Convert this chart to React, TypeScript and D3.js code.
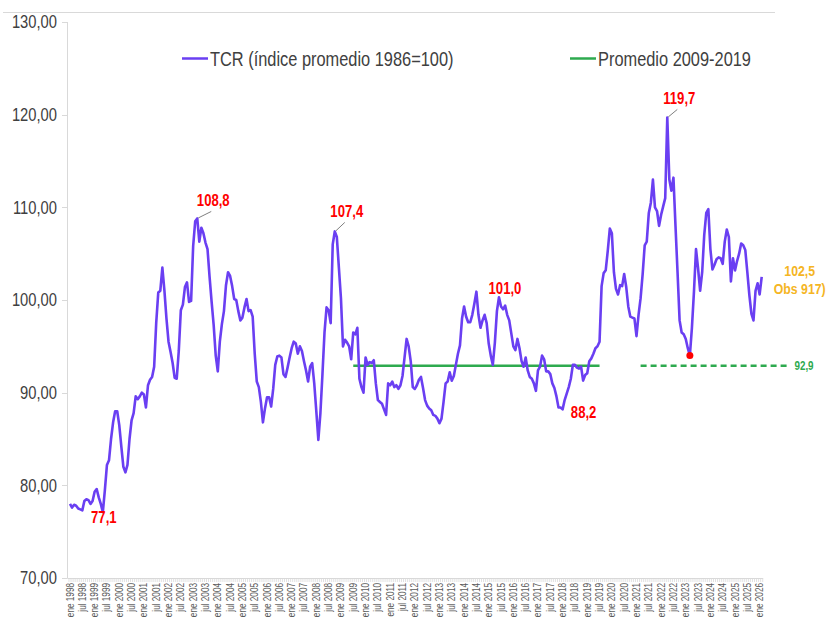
import { useEffect, useRef } from 'react'
import * as d3 from 'd3'

// TCR monthly index (1986=100), ene 1998 .. feb 2026
const tcr: number[] = [
  // 1998
  78.0, 77.6, 77.9, 77.8, 77.5, 77.4, 77.3, 78.3, 78.5, 78.4, 78.0, 78.3,
  // 1999
  79.3, 79.6, 78.7, 78.0, 77.1, 79.5, 82.2, 82.7, 85.0, 86.8, 88.0, 88.0,
  // 2000
  86.5, 84.2, 82.0, 81.4, 82.2, 85.0, 87.0, 87.8, 89.6, 89.3, 89.6, 90.0,
  // 2001
  89.8, 88.4, 90.8, 91.4, 91.7, 92.8, 97.5, 100.8, 101.0, 103.5, 101.0, 98.0,
  // 2002
  95.5, 94.4, 93.2, 91.6, 91.5, 94.5, 98.9, 99.5, 101.4, 101.9, 99.8, 99.9,
  // 2003
  105.8, 108.5, 108.8, 106.3, 107.8, 107.2, 106.2, 105.5, 102.5, 99.8, 97.3, 94.0,
  // 2004
  92.3, 95.5, 97.4, 98.8, 101.6, 103.0, 102.6, 101.5, 100.1, 100.0, 98.8, 97.8,
  // 2005
  98.1, 99.2, 100.1, 98.8, 98.9, 98.2, 94.2, 91.2, 90.6, 89.0, 86.8, 88.3,
  // 2006
  89.5, 89.5, 88.5, 90.4, 93.0, 93.9, 94.0, 93.8, 92.0, 91.7, 92.7, 93.8,
  // 2007
  94.8, 95.5, 95.3, 94.2, 95.0, 94.5, 93.4, 92.4, 91.2, 92.8, 93.2, 91.0,
  // 2008
  88.0, 84.9, 87.8, 92.0, 96.5, 99.2, 98.9, 97.5, 106.0, 107.4, 106.8, 103.5,
  // 2009
  100.2, 95.0, 95.7, 95.4, 95.0, 93.6, 96.5, 96.3, 97.0, 91.5, 90.6, 90.0,
  // 2010
  93.8, 93.0, 93.3, 93.2, 93.5, 91.0, 89.2, 89.0, 88.8, 88.2, 87.6, 91.0,
  // 2011
  90.8, 91.2, 90.6, 90.8, 90.4, 90.8, 91.8, 93.8, 95.8, 95.0, 93.4, 90.6,
  // 2012
  90.4, 90.8, 91.4, 91.7, 90.5, 89.2, 88.6, 88.3, 88.1, 87.6, 87.5, 87.2,
  // 2013
  86.7, 87.2, 89.0, 91.0, 91.2, 92.2, 91.3, 91.8, 93.0, 94.2, 95.1, 98.0,
  // 2014
  99.3, 98.2, 97.6, 97.6, 98.4, 99.6, 100.9, 98.4, 97.0, 97.8, 98.4, 97.5,
  // 2015
  95.3, 94.0, 93.0, 95.4, 98.8, 100.3, 99.3, 99.0, 99.4, 98.4, 97.8, 96.4,
  // 2016
  95.0, 94.6, 95.8, 94.8, 93.4, 92.8, 93.8, 92.4, 91.7, 91.5, 91.0, 90.2,
  // 2017
  92.4, 92.8, 94.0, 93.6, 92.3, 92.3, 92.0, 91.0, 90.5, 89.6, 88.4, 88.4,
  // 2018
  88.2, 89.2, 89.9, 90.6, 91.5, 93.0, 93.0, 92.7, 92.6, 92.8, 91.3, 91.9,
  // 2019
  92.1, 93.4, 93.7, 94.2, 94.8, 95.0, 95.5, 101.5, 102.9, 103.2, 105.3, 107.7,
  // 2020
  107.2, 103.0, 101.2, 100.6, 101.6, 101.5, 102.8, 101.4, 99.3, 98.2, 98.1, 98.0,
  // 2021
  96.1, 98.4, 100.2, 102.8, 105.9, 106.3, 109.4, 110.5, 113.0, 110.0, 109.6, 108.0,
  // 2022
  109.2, 110.1, 111.0, 119.7, 113.0, 111.8, 113.2, 108.0, 103.0, 97.8, 96.5, 96.3,
  // 2023
  95.8, 94.8, 94.0, 97.0, 100.9, 105.5, 103.4, 101.0, 103.0, 107.0, 109.4, 109.8,
  // 2024
  105.5, 103.3, 103.8, 104.4, 104.6, 104.5, 103.9, 106.3, 107.6, 106.8, 102.0, 104.5,
  // 2025
  103.2, 104.2, 105.0, 106.1, 105.9, 105.4, 103.0, 100.5, 98.5, 97.8, 101.0, 101.8,
  // 2026
  100.6, 102.5,
]

const firstYear = 1998
const yTicks = [70, 80, 90, 100, 110, 120, 130]
const xTickLabels = d3
  .range(0, tcr.length, 6)
  .map(i => `${i % 12 === 0 ? 'ene' : 'jul'} ${firstYear + Math.floor(i / 12)}`)

// average 2009-2019
const avgValue = 92.9
const avgSolid = [138, 258]
const avgDashed = [278, 351]

// highlighted extremes (month index, label)
const peakIdx = [16, 62, 129, 209, 240, 291]
const peakText = ['77,1', '108,8', '107,4', '101,0', '88,2', '119,7']
const lowDotIdx = 302
const lastText = ['102,5', 'Obs 917)']

const FONT = '"Liberation Sans", Arial, sans-serif'
const NARROW_SCALE = 0.82
const PURPLE = '#6a3ff2'
const GREEN = '#2eaa4f'

type Sel = d3.Selection<SVGSVGElement, unknown, null, undefined>

// Arial Narrow look-alike: Arial metrics squeezed horizontally
function narrowText(
  svg: Sel,
  x: number,
  y: number,
  text: string,
  opts: { size: number; fill: string; anchor?: string; weight?: number; rotate?: number; dy?: string }
) {
  return svg
    .append('text')
    .attr('transform', `translate(${x},${y}) rotate(${opts.rotate || 0}) scale(${NARROW_SCALE},1)`)
    .attr('text-anchor', opts.anchor || 'start')
    .attr('dy', opts.dy || '0')
    .attr('font-family', FONT)
    .attr('font-size', opts.size)
    .attr('font-weight', opts.weight || 400)
    .attr('fill', opts.fill)
    .text(text)
}

export default function App() {
  const svgRef = useRef<SVGSVGElement>(null)

  useEffect(() => {
    if (!svgRef.current) return
    const svg = d3.select(svgRef.current)
    svg.selectAll('*').remove()

    const x = d3.scaleLinear().domain([0, tcr.length - 1]).range([70, 761.7])
    const y = d3.scaleLinear().domain([70, 130]).range([578, 22])

    // top frame line
    svg.append('line')
      .attr('x1', 3).attr('x2', 775).attr('y1', 12.5).attr('y2', 12.5)
      .attr('stroke', '#d9d9d9').attr('stroke-width', 1)

    // y axis
    svg.append('line')
      .attr('x1', 67.5).attr('x2', 67.5).attr('y1', y(130)).attr('y2', y(70))
      .attr('stroke', '#d9d9d9')
    yTicks.forEach(v => {
      svg.append('line')
        .attr('x1', 62).attr('x2', 67.5).attr('y1', Math.round(y(v)) + 0.5).attr('y2', Math.round(y(v)) + 0.5)
        .attr('stroke', '#d9d9d9')
      narrowText(svg, 57, y(v), `${v},00`, { size: 18, fill: '#404040', anchor: 'end', dy: '0.35em' })
    })

    // x axis
    svg.append('line')
      .attr('x1', 67.5).attr('x2', x(tcr.length - 1) + 1.5)
      .attr('y1', 578.5).attr('y2', 578.5)
      .attr('stroke', '#d9d9d9')
    d3.range(0, tcr.length + 1).forEach(i => {
      const xx = x(i - 0.5)
      svg.append('line')
        .attr('x1', xx).attr('x2', xx).attr('y1', 578.5).attr('y2', 582)
        .attr('stroke', '#d9d9d9').attr('stroke-width', 0.8)
    })
    xTickLabels.forEach((lab, k) => {
      narrowText(svg, x(k * 6), 583, lab, {
        size: 10, fill: '#595959', anchor: 'end', rotate: -90, dy: '0.35em',
      })
    })

    // average lines
    svg.append('line')
      .attr('x1', x(avgSolid[0])).attr('x2', x(avgSolid[1]))
      .attr('y1', y(avgValue)).attr('y2', y(avgValue))
      .attr('stroke', GREEN).attr('stroke-width', 2.5)
    svg.append('line')
      .attr('x1', x(avgDashed[0])).attr('x2', x(avgDashed[1]))
      .attr('y1', y(avgValue)).attr('y2', y(avgValue))
      .attr('stroke', GREEN).attr('stroke-width', 2.5)
      .attr('stroke-dasharray', '6,4')
    narrowText(svg, x(avgDashed[1]) + 4, y(avgValue), '92,9', {
      size: 12, fill: GREEN, weight: 700, dy: '0.35em',
    })

    // TCR line
    const line = d3.line<number>().x((_, i) => x(i)).y(d => y(d))
    svg.append('path')
      .datum(tcr)
      .attr('d', line)
      .attr('fill', 'none')
      .attr('stroke', PURPLE)
      .attr('stroke-width', 2.6)
      .attr('stroke-linejoin', 'round')

    // low point marker
    svg.append('circle')
      .attr('cx', x(lowDotIdx)).attr('cy', y(tcr[lowDotIdx]))
      .attr('r', 3.5).attr('fill', '#ff0000')

    // peak labels: offset of label (center, baseline) and leader flag
    const offsets: [number, number, boolean][] = [
      [1, 11, false],
      [16, -10, true],
      [12, -12, true],
      [6, -3, false],
      [21, 9, false],
      [12, -11, true],
    ]
    peakIdx.forEach((idx, k) => {
      const px = x(idx), py = y(tcr[idx])
      const [dx, dy, leader] = offsets[k]
      if (leader) {
        svg.append('line')
          .attr('x1', px + 1).attr('y1', py - 0.5)
          .attr('x2', px + dx - 2).attr('y2', py + dy + 3)
          .attr('stroke', '#7f7f7f').attr('stroke-width', 1)
      }
      narrowText(svg, px + dx, py + dy + (leader ? -2 : 0), peakText[k], {
        size: 16, fill: '#ff0000', weight: 700, anchor: 'middle',
      })
    })

    // last value
    const lx = x(tcr.length - 1), ly = y(tcr[tcr.length - 1])
    lastText.forEach((t, k) => {
      narrowText(svg, lx + 38, ly - 1 + k * 18, t, {
        size: 15, fill: '#f5b523', weight: 700, anchor: 'middle',
      })
    })

    // legend
    const legend = [
      { x: 182, label: 'TCR (índice promedio 1986=100)', color: PURPLE },
      { x: 570, label: 'Promedio 2009-2019', color: GREEN },
    ]
    legend.forEach(l => {
      svg.append('line')
        .attr('x1', l.x).attr('x2', l.x + 26).attr('y1', 58.5).attr('y2', 58.5)
        .attr('stroke', l.color).attr('stroke-width', 2.5)
      narrowText(svg, l.x + 28, 58.5, l.label, { size: 20, fill: '#404040', dy: '0.35em' })
    })
  }, [])

  return (
    <svg
      ref={svgRef}
      width={827}
      height={621}
      style={{ position: 'absolute', left: 0, top: 0, background: '#fff' }}
    />
  )
}
